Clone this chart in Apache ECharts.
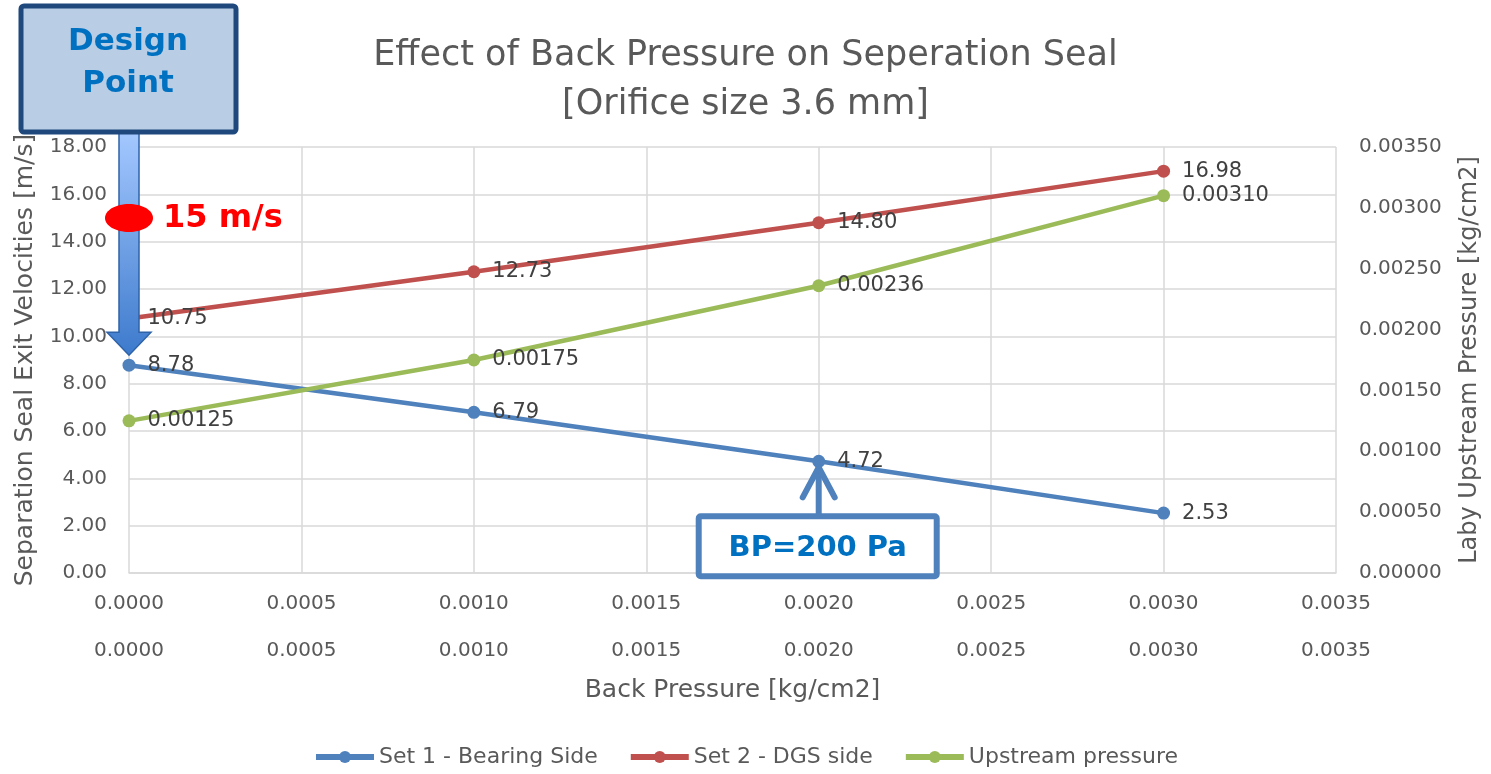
<!DOCTYPE html>
<html>
<head>
<meta charset="utf-8">
<script src="https://cdn.jsdelivr.net/npm/echarts@6/dist/echarts.min.js"></script>
<style>
  html, body { margin: 0; padding: 0; background: #fff; }
  #chart { width: 1491px; height: 774px; }
</style>
</head>
<body>
<div id="chart"></div>
<script>
// 数据
const backPressure = [0, 0.001, 0.002, 0.003];
const bearingSide = [8.78, 6.79, 4.72, 2.53];
const dgsSide = [10.75, 12.73, 14.80, 16.98];
const upstreamPressure = [0.00125, 0.00175, 0.00236, 0.00310];

const FONT = "DejaVu Sans";
const GREY = "#595959";

const chart = echarts.init(document.getElementById("chart"), null, { renderer: "canvas" });

function pairs (ys) {
    return backPressure.map((x, i) => [x, ys[i]]);
}

const xAxisBase = {
    type: "value",
    min: 0,
    max: 0.0035,
    interval: 0.0005,
    axisTick: { show: false },
    axisLabel: {
        color: GREY,
        fontFamily: FONT,
        fontSize: 20,
        margin: 21,
        formatter: v => v.toFixed(4)
    }
};

const labelStyle = {
    show: true,
    position: "right",
    distance: 12,
    color: "#404040",
    fontFamily: FONT,
    fontSize: 21
};

const option = {
    animation: false,
    title: {
        text: "Effect of Back Pressure on Seperation Seal\n[Orifice size 3.6 mm]",
        left: "center",
        top: 26,
        textStyle: {
            color: GREY,
            fontFamily: FONT,
            fontWeight: "normal",
            fontSize: 35,
            lineHeight: 49
        }
    },
    grid: { left: 129, right: 155, top: 147, bottom: 201 },
    legend: {
        bottom: 1,
        left: "center",
        itemWidth: 58,
        itemHeight: 15,
        itemGap: 30,
        lineStyle: { width: 6 },
        textStyle: { color: GREY, fontFamily: FONT, fontSize: 22 }
    },
    xAxis: [
        Object.assign({}, xAxisBase, {
            position: "bottom",
            name: "Back Pressure [kg/cm2]",
            nameLocation: "middle",
            nameGap: 105,
            nameTextStyle: { color: GREY, fontFamily: FONT, fontSize: 25 },
            axisLine: { show: true, lineStyle: { color: "#d9d9d9", width: 1.5 } },
            splitLine: { show: true, lineStyle: { color: "#d9d9d9", width: 1.5 } }
        }),
        Object.assign({}, xAxisBase, {
            position: "bottom",
            offset: 47,
            axisLine: { show: false },
            splitLine: { show: false }
        })
    ],
    yAxis: [
        {
            type: "value",
            min: 0,
            max: 18,
            interval: 2,
            position: "left",
            name: "Separation Seal Exit Velocities [m/s]",
            nameLocation: "middle",
            nameGap: 91,
            nameTextStyle: { color: GREY, fontFamily: FONT, fontSize: 25 },
            axisLine: { show: false },
            axisTick: { show: false },
            axisLabel: {
                color: GREY, fontFamily: FONT, fontSize: 20, margin: 22,
                formatter: v => v.toFixed(2)
            },
            splitLine: { show: true, lineStyle: { color: "#d9d9d9", width: 1.5 } }
        },
        {
            type: "value",
            min: 0,
            max: 0.0035,
            interval: 0.0005,
            position: "right",
            name: "Laby Upstream Pressure [kg/cm2]",
            nameLocation: "middle",
            nameGap: 122,
            nameTextStyle: { color: GREY, fontFamily: FONT, fontSize: 24 },
            axisLine: { show: false },
            axisTick: { show: false },
            axisLabel: {
                color: GREY, fontFamily: FONT, fontSize: 20, margin: 23,
                formatter: v => v.toFixed(5)
            },
            splitLine: { show: false }
        }
    ],
    series: [
        {
            name: "Set 1 - Bearing Side",
            type: "line",
            data: pairs(bearingSide),
            yAxisIndex: 0,
            symbol: "circle",
            symbolSize: 13,
            color: "#4f81bd",
            lineStyle: { width: 4.5 },
            label: Object.assign({}, labelStyle, { formatter: p => p.value[1].toFixed(2) })
        },
        {
            name: "Set 2 - DGS side",
            type: "line",
            data: pairs(dgsSide),
            yAxisIndex: 0,
            symbol: "circle",
            symbolSize: 13,
            color: "#c0504d",
            lineStyle: { width: 4.5 },
            label: Object.assign({}, labelStyle, { formatter: p => p.value[1].toFixed(2) })
        },
        {
            name: "Upstream pressure",
            type: "line",
            data: pairs(upstreamPressure),
            yAxisIndex: 1,
            symbol: "circle",
            symbolSize: 13,
            color: "#9bbb59",
            lineStyle: { width: 4.5 },
            label: Object.assign({}, labelStyle, { formatter: p => p.value[1].toFixed(5) })
        }
    ]
};

chart.setOption(option);

// 标注：设计点、15 m/s、BP=200 Pa
const origin = chart.convertToPixel({ xAxisIndex: 0, yAxisIndex: 0 }, [0, 0]);
const tip = chart.convertToPixel({ xAxisIndex: 0, yAxisIndex: 0 }, [0, 9.2]);
const dot15 = chart.convertToPixel({ xAxisIndex: 0, yAxisIndex: 0 }, [0, 15]);
const bp = chart.convertToPixel({ xAxisIndex: 0, yAxisIndex: 0 }, [0.002, 4.72]);
const cx = origin[0];

chart.setOption({
    graphic: [
        {
            type: "polygon",
            shape: {
                points: [
                    [cx - 10, 133], [cx + 10, 133], [cx + 10, tip[1] - 23],
                    [cx + 22, tip[1] - 23], [cx, tip[1]], [cx - 22, tip[1] - 23],
                    [cx - 10, tip[1] - 23]
                ]
            },
            style: {
                fill: new echarts.graphic.LinearGradient(0, 0, 0, 1, [
                    { offset: 0, color: "#a4c8ff" },
                    { offset: 1, color: "#3d7acc" }
                ]),
                stroke: "#2f63a8",
                lineWidth: 1.5
            },
            z: 100
        },
        {
            type: "rect",
            shape: { x: 21, y: 6, width: 215, height: 126, r: 3 },
            style: { fill: "#b9cde5", stroke: "#1f497d", lineWidth: 5 },
            z: 101
        },
        {
            type: "text",
            x: 128,
            y: 63,
            style: {
                text: "Design\nPoint",
                fill: "#0070c0",
                font: "bold 31px " + FONT,
                lineHeight: 42,
                align: "center",
                verticalAlign: "middle"
            },
            z: 102
        },
        {
            type: "ellipse",
            shape: { cx: cx, cy: dot15[1], rx: 24, ry: 14 },
            style: { fill: "#ff0000" },
            z: 103
        },
        {
            type: "text",
            x: cx + 34,
            y: dot15[1] + 1,
            style: {
                text: "15 m/s",
                fill: "#ff0000",
                font: "bold 32px " + FONT,
                verticalAlign: "middle"
            },
            z: 103
        },
        {
            type: "polyline",
            shape: { points: [[bp[0], bp[1] + 52], [bp[0], bp[1] + 6]] },
            style: { stroke: "#4f81bd", lineWidth: 6, lineCap: "round" },
            z: 100
        },
        {
            type: "polyline",
            shape: { points: [[bp[0] - 16, bp[1] + 36], [bp[0], bp[1] + 6], [bp[0] + 16, bp[1] + 36]] },
            style: { stroke: "#4f81bd", lineWidth: 6, lineCap: "round", lineJoin: "round", fill: null },
            z: 100
        },
        {
            type: "rect",
            shape: { x: bp[0] - 120, y: bp[1] + 55, width: 238, height: 60, r: 2 },
            style: { fill: "#ffffff", stroke: "#4f81bd", lineWidth: 6 },
            z: 100
        },
        {
            type: "text",
            x: bp[0] - 1,
            y: bp[1] + 87,
            style: {
                text: "BP=200 Pa",
                fill: "#0070c0",
                font: "bold 29px " + FONT,
                align: "center",
                verticalAlign: "middle"
            },
            z: 101
        }
    ]
});
</script>
</body>
</html>
